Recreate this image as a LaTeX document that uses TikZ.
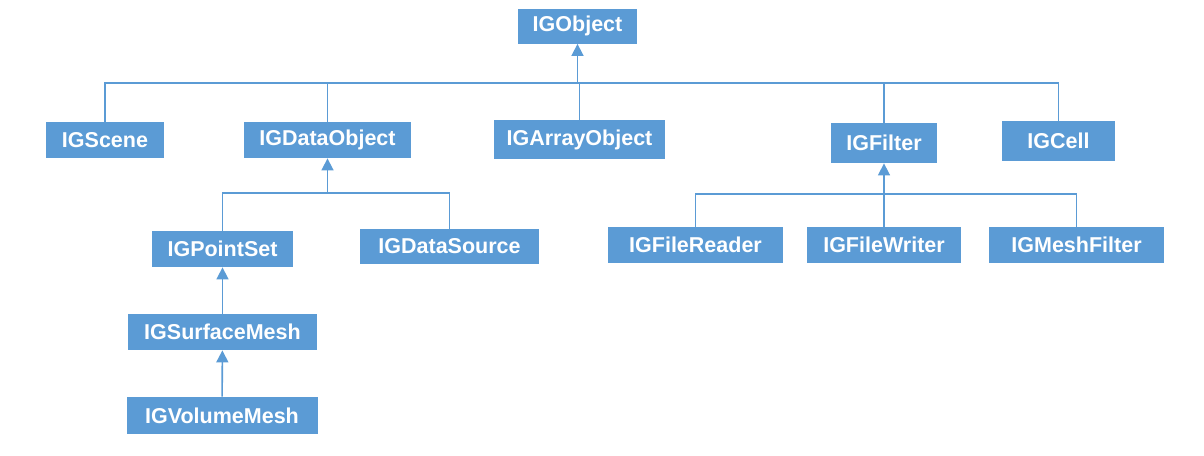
\documentclass[tikz,border=0pt]{standalone}
\usepackage{fontspec}
\setmainfont{Liberation Sans}
\usepackage{tikz}
\usetikzlibrary{arrows.meta, positioning}
\definecolor{igblue}{HTML}{5B9BD5}

\begin{document}
\begin{tikzpicture}[x=1pt,y=-1pt,
 thick,class node/.style={rectangle, fill=igblue, text=white, inner sep=0pt,
  minimum height=36pt, font=\bfseries\fontsize{21.5}{24}\selectfont},
 link/.style={draw=igblue, line width=1.2pt},
 inherit/.style={link, line width=1.6pt, -{Triangle[length=12pt,width=12pt]}}]
  \useasboundingbox (0,0) rectangle (1204,455);

  \node[class node, minimum width=119pt, minimum height=35pt] (obj) at (577.5,26) {IGObject};
  \node[class node, minimum width=118pt] (scene) at (105,140) {IGScene};
  \node[class node, minimum width=167pt] (dobj) at (327.5,140) {IGDataObject};
  \node[class node, minimum width=171pt, minimum height=39pt] (arr) at (579.5,139.5) {IGArrayObject};
  \node[class node, minimum width=106pt, minimum height=40pt] (filter) at (884,143) {IGFilter};
  \node[class node, minimum width=113pt, minimum height=40pt] (cell) at (1058.5,141) {IGCell};
  \node[class node, minimum width=141pt] (pset) at (222.5,249) {IGPointSet};
  \node[class node, minimum width=179pt, minimum height=35pt] (dsrc) at (449.5,246.5) {IGDataSource};
  \node[class node, minimum width=175pt] (freader) at (695.5,245) {IGFileReader};
  \node[class node, minimum width=154pt] (fwriter) at (884,245) {IGFileWriter};
  \node[class node, minimum width=175pt] (mfilter) at (1076.5,245) {IGMeshFilter};
  \node[class node, minimum width=189pt] (smesh) at (222.5,332) {IGSurfaceMesh};
  \node[class node, minimum width=191pt, minimum height=37pt] (vmesh) at (222,415.5) {IGVolumeMesh};

  \coordinate (objbus) at (577.5,83);
  \coordinate (dobjbus) at (327.5,193);
  \coordinate (filterbus) at (884,194);

  \foreach \s/\t in {scene/objbus, dobj/objbus, arr/objbus, filter/objbus, cell/objbus,
   pset/dobjbus, dsrc/dobjbus, freader/filterbus, fwriter/filterbus, mfilter/filterbus} {
   \draw[link] (\s.north) |- (\t);}
  \foreach \s/\t in {objbus/obj, dobjbus/dobj, filterbus/filter, smesh/pset, vmesh/smesh} {
   \draw[inherit] (\s) -- (\t);}
\end{tikzpicture}
\end{document}
